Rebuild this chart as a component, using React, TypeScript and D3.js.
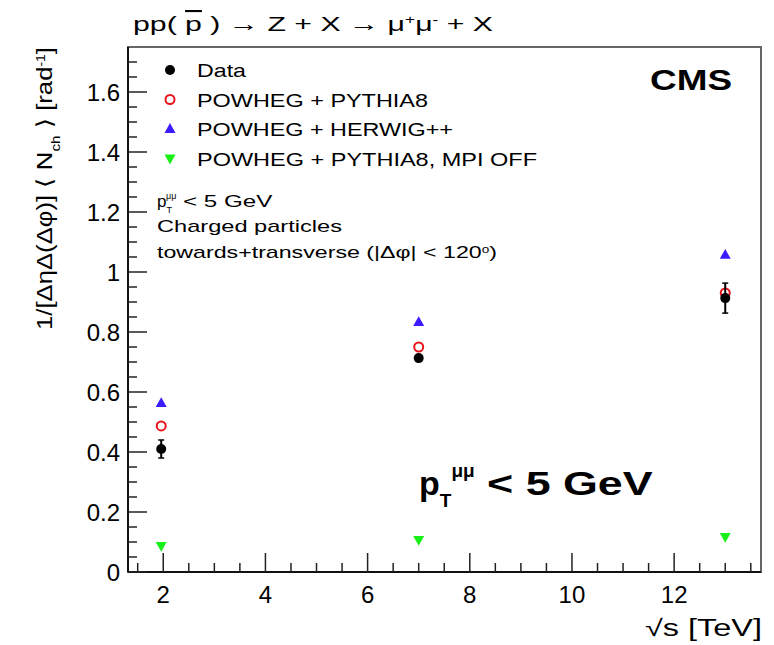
import React from "react";
import * as d3 from "d3";

const energies = [1.96, 7, 13];
const dataVals = [0.41, 0.713, 0.913];
const dataErr = [0.03, 0.008, 0.05];
const pythiaVals = [0.487, 0.75, 0.93];
const herwigVals = [0.563, 0.833, 1.057];
const mpiOffVals = [0.087, 0.107, 0.117];
const xMajor = [2, 4, 6, 8, 10, 12];
const yMajor = [0, 0.2, 0.4, 0.6, 0.8, 1, 1.2, 1.4, 1.6];
const legendLabels = [
  "Data",
  "POWHEG + PYTHIA8",
  "POWHEG + HERWIG++",
  "POWHEG + PYTHIA8, MPI OFF",
];
const legendWidths = [49, 231, 256, 340];

const FONT = "'Liberation Sans', Arial, Helvetica, sans-serif";

export default function App() {
  const left = 128, right = 761, top = 47, bottom = 572;
  const x = d3.scaleLinear().domain([1.31, 13.7]).range([left, right]);
  const y = d3.scaleLinear().domain([0, 1.75]).range([bottom, top]);

  const xMinor = d3.range(1.5, 13.7, 0.5).filter((v) => !xMajor.includes(v));
  const yMinor = d3.range(0.05, 1.75, 0.05).filter(
    (v) => !yMajor.some((m) => Math.abs(m - v) < 1e-6)
  );

  const tri = (cx: number, cy: number, s: number, up: boolean) => {
    const h = s * 0.9;
    return up
      ? `M${cx},${cy - h * 0.6} L${cx + s / 2},${cy + h * 0.4} L${cx - s / 2},${cy + h * 0.4} Z`
      : `M${cx},${cy + h * 0.6} L${cx + s / 2},${cy - h * 0.4} L${cx - s / 2},${cy - h * 0.4} Z`;
  };

  const marker = (kind: number, cx: number, cy: number, key: string) => {
    if (kind === 0) return <circle key={key} cx={cx} cy={cy} r={5} fill="#000" />;
    if (kind === 1)
      return <circle key={key} cx={cx} cy={cy} r={4.5} fill="none" stroke="#e8141c" strokeWidth={2} />;
    if (kind === 2) return <path key={key} d={tri(cx, cy, 11, true)} fill="#3a1cff" />;
    return <path key={key} d={tri(cx, cy, 11, false)} fill="#19f019" />;
  };

  return (
    <svg
      width={774}
      height={645}
      style={{ position: "absolute", left: 0, top: 0, background: "#fff" }}
      fontFamily={FONT}
    >
      {/* title */}
      <text x={133} y={31} fontSize={21} fill="#000" textLength={360} lengthAdjust="spacingAndGlyphs">
        {"pp( "}
        <tspan textDecoration="overline">p</tspan>
        {" ) → Z + X → μ"}
        <tspan baselineShift="super" fontSize={12}>+</tspan>μ
        <tspan baselineShift="super" fontSize={12}>-</tspan> + X
      </text>

      {/* frame */}
      <rect x={left} y={top} width={right - left} height={bottom - top} fill="none" stroke="#666" strokeWidth={2} />
      <line x1={left} x2={left} y1={top} y2={bottom} stroke="#111" strokeWidth={2} />
      <line x1={left} x2={right} y1={bottom} y2={bottom} stroke="#111" strokeWidth={2} />

      {/* x ticks */}
      {xMajor.map((v) => (
        <g key={"xm" + v}>
          <line x1={x(v)} x2={x(v)} y1={bottom} y2={bottom - 19} stroke="#222" strokeWidth={1.5} />
          <text x={x(v)} y={603} fontSize={24} textAnchor="middle" fill="#000">
            {v}
          </text>
        </g>
      ))}
      {xMinor.map((v) => (
        <line key={"xn" + v} x1={x(v)} x2={x(v)} y1={bottom} y2={bottom - 9} stroke="#222" strokeWidth={1.5} />
      ))}

      {/* y ticks */}
      {yMajor.map((v) => (
        <g key={"ym" + v}>
          <line x1={left} x2={left + 19} y1={y(v)} y2={y(v)} stroke="#222" strokeWidth={1.5} />
          <text x={120} y={y(v) + 8.5} fontSize={24} textAnchor="end" fill="#000">
            {v}
          </text>
        </g>
      ))}
      {yMinor.map((v) => (
        <line key={"yn" + v.toFixed(2)} x1={left} x2={left + 9} y1={y(v)} y2={y(v)} stroke="#222" strokeWidth={1.5} />
      ))}

      {/* axis titles */}
      <text x={762} y={636} fontSize={23} textAnchor="end" fill="#000" textLength={117} lengthAdjust="spacingAndGlyphs">
        √s [TeV]
      </text>
      <text
        transform="translate(52,47) rotate(-90)"
        fontSize={22}
        textAnchor="end"
        fill="#000"
        textLength={283}
        lengthAdjust="spacingAndGlyphs"
      >
        1/[ΔηΔ(Δφ)] ⟨ N
        <tspan baselineShift="sub" fontSize={13}>ch</tspan> ⟩ [rad
        <tspan baselineShift="super" fontSize={12}>-1</tspan>]
      </text>

      {/* CMS */}
      <text x={650} y={90} fontSize={29} fontWeight="bold" fill="#000" textLength={82} lengthAdjust="spacingAndGlyphs">
        CMS
      </text>

      {/* legend */}
      {legendLabels.map((l, i) => (
        <g key={"lg" + i}>
          {marker(i, 170, 70 + i * 29.5, "lm" + i)}
          <text
            x={197}
            y={77 + i * 29.5}
            fontSize={19}
            fill="#000"
            textLength={legendWidths[i]}
            lengthAdjust="spacingAndGlyphs"
          >
            {l}
          </text>
        </g>
      ))}

      {/* cuts text */}
      <text x={157} y={207} fontSize={17} fill="#000">
        p<tspan fontSize={9} dy={6}>T</tspan>
        <tspan fontSize={9} dx={-6} dy={-14}>μμ</tspan>
        <tspan dy={8} textLength={96} lengthAdjust="spacingAndGlyphs">{" < 5 GeV"}</tspan>
      </text>
      <text x={157} y={232} fontSize={17} fill="#000" textLength={185} lengthAdjust="spacingAndGlyphs">
        Charged particles
      </text>
      <text x={157} y={258} fontSize={17} fill="#000" textLength={340} lengthAdjust="spacingAndGlyphs">
        towards+transverse (|Δφ| &lt; 120
        <tspan baselineShift="super" fontSize={10}>o</tspan>)
      </text>

      {/* big label */}
      <text x={419} y={495} fontSize={34} fontWeight="bold" fill="#000">
        p<tspan fontSize={19} dy={12}>T</tspan>
        <tspan fontSize={19} dy={-30}>μμ</tspan>
        <tspan dy={18} textLength={178} lengthAdjust="spacingAndGlyphs">{" < 5 GeV"}</tspan>
      </text>

      {/* MC points */}
      {energies.map((e, i) => marker(3, x(e), y(mpiOffVals[i]), "g" + i))}
      {energies.map((e, i) => marker(2, x(e), y(herwigVals[i]), "b" + i))}
      {energies.map((e, i) => marker(1, x(e), y(pythiaVals[i]), "r" + i))}

      {/* data */}
      {energies.map((e, i) => (
        <g key={"d" + i}>
          <line x1={x(e)} x2={x(e)} y1={y(dataVals[i] - dataErr[i])} y2={y(dataVals[i] + dataErr[i])} stroke="#000" strokeWidth={2} />
          <line x1={x(e) - 3} x2={x(e) + 3} y1={y(dataVals[i] - dataErr[i])} y2={y(dataVals[i] - dataErr[i])} stroke="#000" strokeWidth={1.5} />
          <line x1={x(e) - 3} x2={x(e) + 3} y1={y(dataVals[i] + dataErr[i])} y2={y(dataVals[i] + dataErr[i])} stroke="#000" strokeWidth={1.5} />
          {marker(0, x(e), y(dataVals[i]), "dm" + i)}
        </g>
      ))}
    </svg>
  );
}
